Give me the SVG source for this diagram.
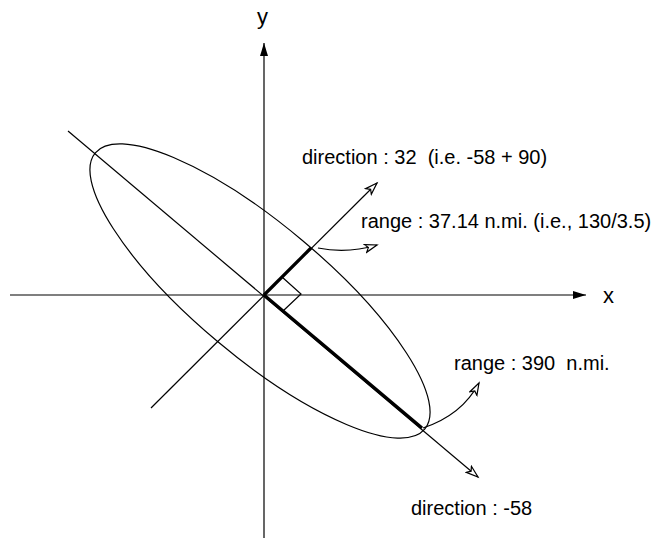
<svg xmlns="http://www.w3.org/2000/svg" width="668" height="538" viewBox="0 0 668 538">
<defs>
<style>
.ln{stroke:#000;stroke-width:1.2;fill:none}
.thick{stroke:#000;stroke-width:3.2;fill:none}
.lbl{font-family:"Liberation Sans",Arial,sans-serif;font-size:20px;fill:#000;white-space:pre}
.ax{font-family:"Liberation Sans",Arial,sans-serif;font-size:22px;fill:#000}
</style>
<marker id="solid" markerUnits="userSpaceOnUse" markerWidth="14" markerHeight="10" refX="13" refY="4" orient="auto">
<path d="M0,0 L13,4 L0,8 z" fill="#000"/>
</marker>
<marker id="open" markerUnits="userSpaceOnUse" markerWidth="16" markerHeight="12" refX="13" refY="5" orient="auto">
<path d="M1,1 L13,5 L1,9 L4,5 z" fill="#fff" stroke="#000" stroke-width="1.2"/>
</marker>
</defs>
<rect width="668" height="538" fill="#fff"/>
<g id="axes">
<line class="ln" x1="264" y1="538" x2="264" y2="43" marker-end="url(#solid)"/>
<line class="ln" x1="10" y1="295" x2="586" y2="295" marker-end="url(#solid)"/>
<text class="ax" x="257" y="24">y</text>
<text class="ax" x="603" y="303">x</text>
</g>
<g id="ellipse">
<ellipse class="ln" cx="260" cy="291" rx="215" ry="66" transform="rotate(40 260 291)"/>
</g>
<g id="connectors">
<line class="ln" x1="68" y1="131" x2="478" y2="477" marker-end="url(#open)"/>
<line class="ln" x1="151" y1="408" x2="377" y2="183" marker-end="url(#open)"/>
<path class="ln" d="M318,248 Q347,254 377,245" marker-end="url(#open)"/>
<path class="ln" d="M423,428 Q462,415 479,383" marker-end="url(#open)"/>
<line class="thick" x1="264" y1="295" x2="311" y2="248"/>
<line class="thick" x1="264" y1="295" x2="422" y2="428"/>
<polyline class="ln" points="282,277 301,294 283,311"/>
</g>
<g id="label-dir32">
<text class="lbl" x="302" y="164">direction : 32  (i.e. -58 + 90)</text>
</g>
<g id="label-range37">
<text class="lbl" x="361" y="228">range : 37.14 n.mi. (i.e., 130/3.5)</text>
</g>
<g id="label-range390">
<text class="lbl" x="454" y="370">range : 390  n.mi.</text>
</g>
<g id="label-dir58">
<text class="lbl" x="411" y="515">direction : -58</text>
</g>
</svg>
